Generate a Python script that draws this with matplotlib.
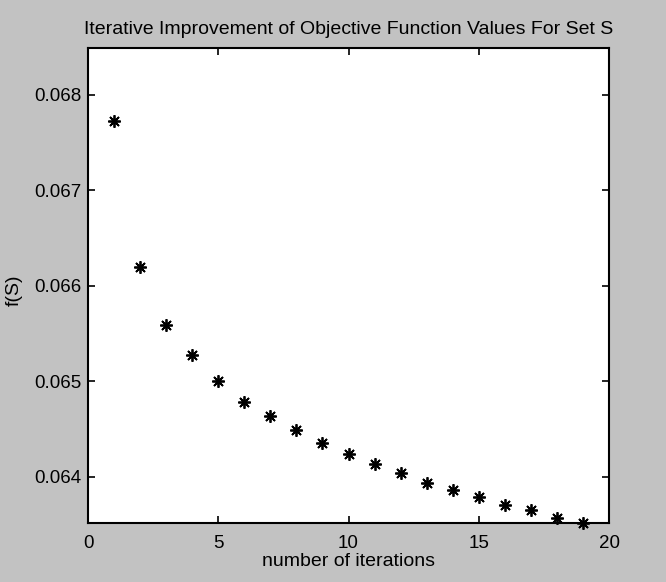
import numpy as np
import matplotlib
matplotlib.use("Agg")
import matplotlib.pyplot as plt

## -- Data -- ##
iterations = [1, 2, 3, 4, 5, 6, 7, 8, 9, 10, 11, 12, 13, 14, 15, 16, 17, 18, 19]
f_values = [0.06773, 0.06620, 0.06559, 0.06528, 0.06501, 0.06479, 0.06464,
            0.06449, 0.06436, 0.06424, 0.06414, 0.06404, 0.06394, 0.06386,
            0.06379, 0.06371, 0.06365, 0.06357, 0.06352]
x_ticks = [0, 5, 10, 15, 20]
y_ticks = [0.064, 0.065, 0.066, 0.067, 0.068]
y_tick_labels = ["0.064", "0.065", "0.066", "0.067", "0.068"]

TITLE = "Iterative Improvement of Objective Function Values For Set S"
XLABEL = "number of iterations"
YLABEL = "f(S)"

plt.rcParams["font.family"] = ["Liberation Sans", "DejaVu Sans"]

# axes box in pixels: left 88, right 609, top 48, bottom 523
W, H = 666, 582
fig = plt.figure(figsize=(W / 100, H / 100), dpi=100, facecolor="#c2c2c2")
ax = fig.add_axes([88 / W, 1 - 523 / H, (609 - 88) / W, (523 - 48) / H])
ax.set_facecolor("white")

# MATLAB-style asterisk marker (8 spokes)
ax.plot(iterations, f_values, linestyle="none", marker=(8, 2, 0), color="black",
        markersize=9, markeredgewidth=1.3, clip_on=False)

ax.set_xlim(0, 20)
ax.set_ylim(0.063518, 0.068492)
ax.set_xticks(x_ticks)
ax.set_yticks(y_ticks)
ax.set_yticklabels(y_tick_labels)

ax.tick_params(direction="in", length=5, width=1.2, top=True, right=True,
               labelsize=13.5, colors="black")
ax.tick_params(axis="x", pad=9)
ax.tick_params(axis="y", pad=5)
for sp in ax.spines.values():
    sp.set_linewidth(1.5)

ax.set_title(TITLE, fontsize=14, pad=10)
ax.set_xlabel(XLABEL, fontsize=14, labelpad=0)
ax.set_ylabel(YLABEL, fontsize=14)
# label sits just left of the tick labels, slightly below centre
ax.yaxis.set_label_coords(-0.125, 0.49)

fig.savefig("out.png", dpi=100, facecolor=fig.get_facecolor())
